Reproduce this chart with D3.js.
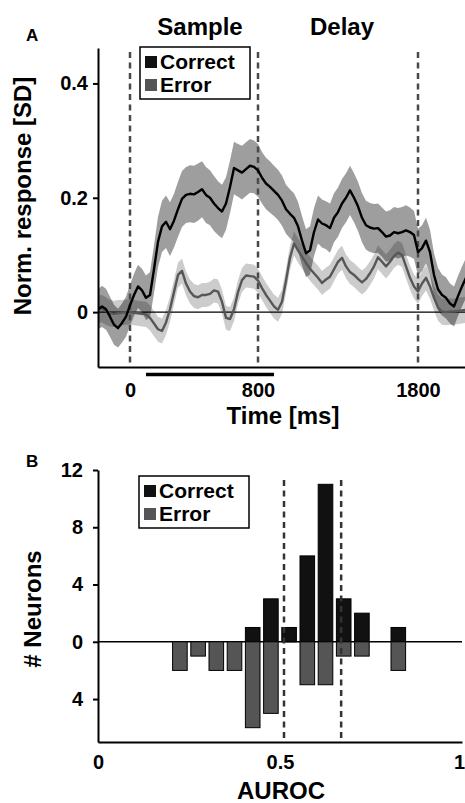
<!DOCTYPE html>
<html>
<head>
<meta charset="utf-8">
<script src="https://cdn.jsdelivr.net/npm/d3@7"></script>
<style>
body{margin:0;background:#fff;}
svg{display:block;font-family:"Liberation Sans",Arial,sans-serif;font-weight:bold;}
</style>
</head>
<body>
<svg id="fig" width="465" height="803"></svg>
<script>
// panel A: population response, sampled every 25 ms
var timeMs = [-200,-175,-150,-125,-100,-75,-50,-25,0,25,
  50,75,100,125,150,175,200,225,250,275,
  300,325,350,375,400,425,450,475,500,525,
  550,575,600,625,650,675,700,725,750,775,
  800,825,850,875,900,925,950,975,1000,1025,
  1050,1075,1100,1125,1150,1175,1200,1225,1250,1275,
  1300,1325,1350,1375,1400,1425,1450,1475,1500,1525,
  1550,1575,1600,1625,1650,1675,1700,1725,1750,1775,
  1800,1825,1850,1875,1900,1925,1950,1975,2000,2025,
  2050,2075,2100];
var correctMean = [0.005,0.01,0.005,-0.008,-0.022,-0.028,-0.019,-0.008,0.012,0.03,
  0.045,0.038,0.025,0.03,0.075,0.123,0.15,0.158,0.145,0.16,
  0.18,0.198,0.205,0.207,0.206,0.21,0.215,0.205,0.2,0.19,
  0.182,0.176,0.19,0.219,0.252,0.248,0.244,0.25,0.256,0.254,
  0.248,0.235,0.225,0.219,0.212,0.205,0.195,0.18,0.172,0.165,
  0.15,0.125,0.103,0.108,0.14,0.162,0.155,0.152,0.147,0.165,
  0.175,0.19,0.2,0.213,0.2,0.185,0.165,0.152,0.148,0.146,
  0.147,0.14,0.132,0.134,0.14,0.138,0.14,0.143,0.14,0.135,
  0.105,0.112,0.125,0.105,0.065,0.04,0.03,0.025,0.015,0.01,
  0.028,0.045,0.06];
var correctSem = [0.035,0.036,0.036,0.035,0.035,0.034,0.034,0.035,0.036,0.037,
  0.038,0.038,0.039,0.04,0.042,0.044,0.045,0.046,0.047,0.047,
  0.048,0.049,0.049,0.05,0.05,0.05,0.049,0.049,0.048,0.048,
  0.047,0.047,0.046,0.046,0.046,0.046,0.047,0.047,0.047,0.046,
  0.046,0.045,0.045,0.045,0.044,0.044,0.044,0.043,0.043,0.043,
  0.043,0.043,0.042,0.042,0.042,0.042,0.042,0.042,0.043,0.043,
  0.043,0.043,0.043,0.043,0.043,0.043,0.043,0.043,0.043,0.043,
  0.043,0.043,0.044,0.044,0.044,0.044,0.044,0.044,0.043,0.042,
  0.041,0.04,0.04,0.039,0.038,0.037,0.036,0.036,0.035,0.035,
  0.035,0.035,0.035];
var errorMean = [0.005,0.006,0.002,-0.002,-0.003,-0.002,-0.001,0,0,-0.001,
  -0.002,-0.003,-0.004,-0.01,-0.02,-0.03,-0.033,-0.018,0.005,0.035,
  0.065,0.072,0.05,0.036,0.028,0.026,0.03,0.03,0.032,0.038,
  0.036,0.018,-0.01,-0.012,0.005,0.035,0.056,0.064,0.063,0.062,
  0.055,0.042,0.03,0.02,0.01,0.004,0.018,0.055,0.095,0.12,
  0.108,0.097,0.086,0.076,0.068,0.06,0.051,0.057,0.062,0.075,
  0.088,0.095,0.08,0.07,0.065,0.058,0.052,0.058,0.068,0.08,
  0.096,0.088,0.08,0.088,0.098,0.104,0.1,0.08,0.06,0.045,
  0.036,0.05,0.06,0.045,0.025,0.008,0.001,0,0.001,0.001,
  0.002,0.003,0.004];
var errorSem = [0.024,0.024,0.024,0.023,0.023,0.023,0.022,0.022,0.022,0.022,
  0.022,0.022,0.022,0.022,0.022,0.022,0.022,0.022,0.022,0.022,
  0.022,0.022,0.021,0.021,0.021,0.021,0.021,0.021,0.021,0.021,
  0.021,0.021,0.021,0.021,0.021,0.021,0.021,0.021,0.021,0.021,
  0.021,0.021,0.021,0.021,0.021,0.021,0.021,0.021,0.021,0.021,
  0.021,0.021,0.021,0.021,0.021,0.021,0.021,0.021,0.021,0.021,
  0.021,0.021,0.021,0.021,0.021,0.021,0.021,0.021,0.021,0.021,
  0.021,0.021,0.021,0.021,0.021,0.021,0.021,0.021,0.021,0.021,
  0.022,0.022,0.022,0.022,0.022,0.023,0.023,0.023,0.023,0.023,
  0.023,0.023,0.023];
var eventTimes = [0, 800, 1800];
var sampleWindow = [100, 900];
var yTicksA = [0, 0.2, 0.4];
var xTicksA = [0, 800, 1800];

// panel B: AUROC histogram (bin starts, width 0.05)
var binStarts = [0.2,0.25,0.3,0.35,0.4,0.45,0.5,0.55,0.6,0.65,0.7,0.75,0.8];
var correctCounts = [0,0,0,0,1,3,1,6,11,3,2,0,1];
var errorCounts = [2,1,2,2,6,5,0,3,3,1,1,0,2];
var aurocMeans = [0.511, 0.668];
var yTicksB = [-4, 0, 4, 8, 12];
var xTicksB = [0, 0.5, 1];

var svg = d3.select("#fig");

function addText(x, y, txt, size, anchor){
    return svg.append("text")
        .attr("x", x).attr("y", y)
        .attr("font-size", size)
        .attr("text-anchor", anchor || "start")
        .text(txt);
}

function legend(x, y){
    svg.append("rect").attr("x", x).attr("y", y).attr("width", 110).attr("height", 52)
        .attr("fill", "#fff").attr("stroke", "#000").attr("stroke-width", 1.5);
    svg.append("rect").attr("x", x + 5).attr("y", y + 9).attr("width", 12).attr("height", 12).attr("fill", "#111");
    svg.append("rect").attr("x", x + 5).attr("y", y + 32).attr("width", 12).attr("height", 12).attr("fill", "#555");
    addText(x + 20, y + 22, "Correct", 21);
    addText(x + 20, y + 45, "Error", 21);
}

// ---------- panel A ----------
var xA = d3.scaleLinear().domain([-200, 2100]).range([98, 466]);
var yA = d3.scaleLinear().domain([-0.096, 0.462]).range([367, 48]);

svg.append("clipPath").attr("id", "clipA")
    .append("rect").attr("x", 98).attr("y", 48).attr("width", 367).attr("height", 319);

var idx = d3.range(timeMs.length);
var plotA = svg.append("g").attr("clip-path", "url(#clipA)");

function band(mean, sem){
    return d3.area()
        .x(function(i){ return xA(timeMs[i]); })
        .y0(function(i){ return yA(mean[i] - sem[i]); })
        .y1(function(i){ return yA(mean[i] + sem[i]); })(idx);
}
function meanLine(mean){
    return d3.line()
        .x(function(i){ return xA(timeMs[i]); })
        .y(function(i){ return yA(mean[i]); })(idx);
}

plotA.append("path").attr("d", band(errorMean, errorSem)).attr("fill", "#000").attr("fill-opacity", 0.2);
plotA.append("path").attr("d", band(correctMean, correctSem)).attr("fill", "#000").attr("fill-opacity", 0.38);

plotA.append("line").attr("x1", 98).attr("x2", 466).attr("y1", yA(0)).attr("y2", yA(0))
    .attr("stroke", "#000").attr("stroke-width", 1.2);

plotA.selectAll(".evt").data(eventTimes).enter().append("line")
    .attr("x1", function(d){ return xA(d); }).attr("x2", function(d){ return xA(d); })
    .attr("y1", 52).attr("y2", 367)
    .attr("stroke", "#4a4a4a").attr("stroke-width", 2.5).attr("stroke-dasharray", "6,4.5");

plotA.append("path").attr("d", meanLine(errorMean)).attr("fill", "none")
    .attr("stroke", "#575757").attr("stroke-width", 2.4).attr("stroke-linejoin", "round");
plotA.append("path").attr("d", meanLine(correctMean)).attr("fill", "none")
    .attr("stroke", "#000").attr("stroke-width", 2.4).attr("stroke-linejoin", "round");

var axA = svg.append("g").attr("transform", "translate(98,0)")
    .call(d3.axisLeft(yA).tickValues(yTicksA).tickSize(5).tickSizeOuter(0).tickPadding(5)
        .tickFormat(function(d){ return d === 0 ? "0" : d.toFixed(1); }));
var axAx = svg.append("g").attr("transform", "translate(0,367)")
    .call(d3.axisBottom(xA).tickValues(xTicksA).tickSize(0).tickSizeOuter(0).tickPadding(16)
        .tickFormat(function(d){ return String(d); }));
[axA, axAx].forEach(function(g){
    g.select(".domain").attr("stroke-width", 2);
    g.selectAll(".tick line").attr("stroke-width", 2);
    g.selectAll("text").attr("font-size", 20).attr("font-family", null);
});

svg.append("line").attr("x1", xA(sampleWindow[0])).attr("x2", xA(sampleWindow[1]))
    .attr("y1", 374.5).attr("y2", 374.5).attr("stroke", "#000").attr("stroke-width", 3.5);

legend(140, 47);
addText(26, 41, "A", 17);
addText(200, 35, "Sample", 24, "middle");
addText(342, 35, "Delay", 24, "middle");
addText(283, 424, "Time [ms]", 24, "middle");
addText(0, 0, "Norm. response [SD]", 24, "middle").attr("transform", "translate(31,196) rotate(-90)");

// ---------- panel B ----------
var xB = d3.scaleLinear().domain([0, 1]).range([98, 462]);
var yB = d3.scaleLinear().domain([-7, 12]).range([742, 470]);
var binW = 0.05;

svg.append("line").attr("x1", 98).attr("x2", 462).attr("y1", yB(0)).attr("y2", yB(0))
    .attr("stroke", "#000").attr("stroke-width", 1.5);

svg.selectAll(".barC").data(binStarts).enter().append("rect")
    .filter(function(d, i){ return correctCounts[i] > 0; })
    .attr("x", function(d){ return xB(d) + 1.8; })
    .attr("width", xB(binW) - xB(0) - 3.6)
    .attr("y", function(d){ return yB(correctCounts[binStarts.indexOf(d)]); })
    .attr("height", function(d){ return yB(0) - yB(correctCounts[binStarts.indexOf(d)]); })
    .attr("fill", "#111").attr("stroke", "#000").attr("stroke-width", 1);

svg.selectAll(".barE").data(binStarts).enter().append("rect")
    .filter(function(d, i){ return errorCounts[i] > 0; })
    .attr("x", function(d){ return xB(d) + 1.8; })
    .attr("width", xB(binW) - xB(0) - 3.6)
    .attr("y", yB(0))
    .attr("height", function(d){ return yB(-errorCounts[binStarts.indexOf(d)]) - yB(0); })
    .attr("fill", "#555").attr("stroke", "#000").attr("stroke-width", 1);

svg.selectAll(".mB").data(aurocMeans).enter().append("line")
    .attr("x1", function(d){ return xB(d); }).attr("x2", function(d){ return xB(d); })
    .attr("y1", 480).attr("y2", 742)
    .attr("stroke", "#333").attr("stroke-width", 2.5).attr("stroke-dasharray", "6,4.5");

var axB = svg.append("g").attr("transform", "translate(98,0)")
    .call(d3.axisLeft(yB).tickValues(yTicksB).tickSize(5).tickSizeOuter(0).tickPadding(10)
        .tickFormat(function(d){ return Math.abs(d); }));
var axBx = svg.append("g").attr("transform", "translate(0,742)")
    .call(d3.axisBottom(xB).tickValues(xTicksB).tickSize(0).tickSizeOuter(0).tickPadding(13)
        .tickFormat(function(d){ return d; }));
[axB, axBx].forEach(function(g){
    g.select(".domain").attr("stroke-width", 2);
    g.selectAll(".tick line").attr("stroke-width", 2);
    g.selectAll("text").attr("font-size", 20).attr("font-family", null);
});
// keep the last label inside the window
axBx.selectAll(".tick text").filter(function(d){ return d === 1; }).attr("dx", -3);

legend(139, 476);
addText(26, 467, "B", 17);
addText(281, 799, "AUROC", 24, "middle");
addText(0, 0, "# Neurons", 24, "middle").attr("transform", "translate(41,609) rotate(-90)");
</script>
</body>
</html>
